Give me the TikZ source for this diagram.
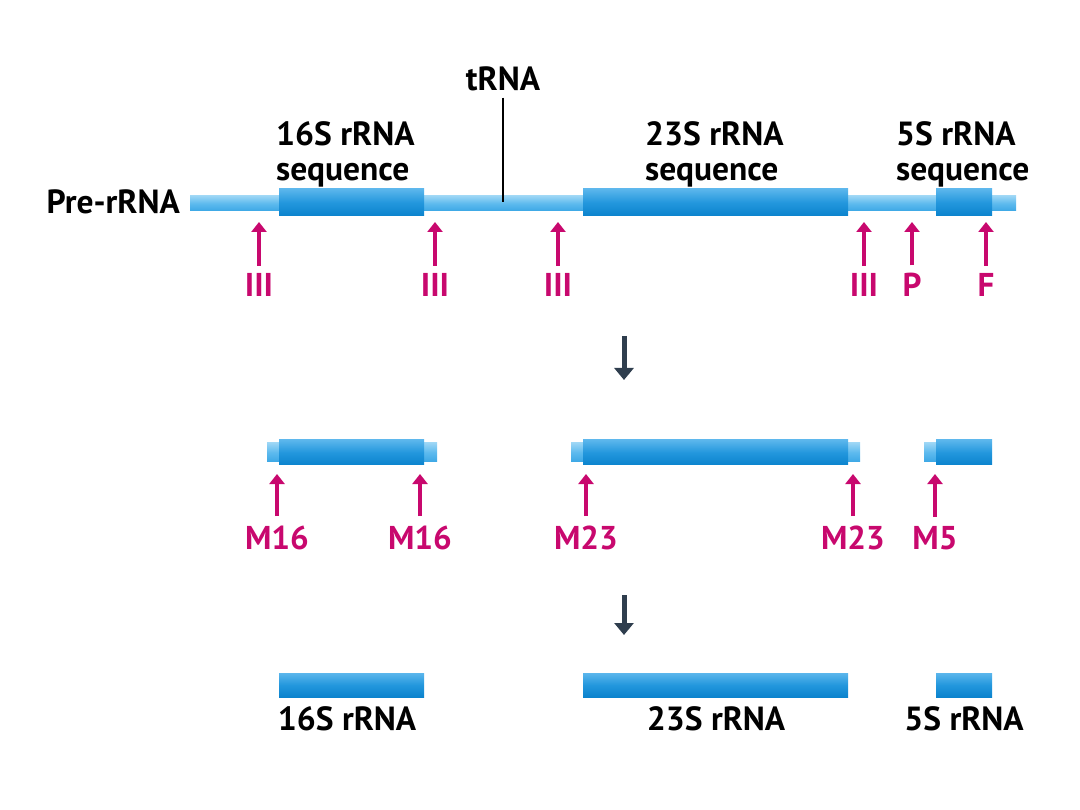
\documentclass[tikz,border=0pt]{standalone}
\usepackage{fontspec}
\setmainfont{PT Sans}
\usetikzlibrary{arrows.meta}
\definecolor{thickT}{HTML}{5BB6EC}
\definecolor{thickM}{HTML}{2397DD}
\definecolor{thickB}{HTML}{0B83CD}
\definecolor{thinT}{HTML}{9AD5F5}
\definecolor{thinM}{HTML}{5DBAEE}
\definecolor{thinB}{HTML}{3CA7E5}
\definecolor{mag}{HTML}{C8086E}
\definecolor{dark}{HTML}{2F3E4E}
\begin{document}
\begin{tikzpicture}[x=1pt,y=-1pt,
  thinbar/.style={draw=none, top color=thinT, bottom color=thinB, middle color=thinM},
  thickbar/.style={draw=none, top color=thickT, bottom color=thickB, middle color=thickM},
  lbl/.style={font=\fontsize{33.5}{35}\selectfont\bfseries, inner sep=0pt, text=black},
  enz/.style={font=\fontsize{33}{36}\selectfont\bfseries, inner sep=0pt, text=mag, anchor=base},
  cut/.style={draw=mag, line width=4pt, -{Triangle[width=15pt,length=10pt]}},
  stepdown/.style={draw=dark, line width=5pt, -{Triangle[width=19pt,length=12pt]}}
]
\useasboundingbox (0,0) rectangle (1080,810);

% ---------- Pre-rRNA ----------
\fill[thinbar] (190,196) rectangle (1016,211);
\fill[thickbar] (279,189) rectangle (424,216);
\fill[thickbar] (583,189) rectangle (848,216);
\fill[thickbar] (936,189) rectangle (992,216);

\node[lbl, anchor=base east] (pre) at (180,214) {Pre-rRNA};
\node[lbl, anchor=base] (trna) at (503,91) {tRNA};
\coordinate (trnaEnd) at (503,202);
\draw[line width=2.6pt] ([yshift=-6pt]trna.south) -- (trnaEnd);

\node[lbl, anchor=north west, align=left] (s16) at (276,121) {16S rRNA\\sequence};
\node[lbl, anchor=north west, align=left] (s23) at (645,121) {23S rRNA\\sequence};
\node[lbl, anchor=north west, align=left] (s5) at (896,121) {5S rRNA\\sequence};

% cleavage sites, first step
\foreach \i/\x/\t in {1/259/III, 2/435/III, 3/558/III, 4/864/III, 5/912/P, 6/986/F}{
  \node[enz] (e\i) at (\x,297) {\t};
  \coordinate (c\i) at (\x,222);
  \draw[cut] ([yshift=8pt]e\i.north) -- (c\i);
}

% ---------- step arrow 1 ----------
\coordinate (d1a) at (624,336);
\coordinate (d1b) at (624,380);
\draw[stepdown] (d1a) -- (d1b);

% ---------- intermediates ----------
\fill[thinbar] (267,443) rectangle (437,462);
\fill[thickbar] (279,440) rectangle (424,465);
\fill[thinbar] (571,443) rectangle (860,462);
\fill[thickbar] (583,440) rectangle (848,465);
\fill[thinbar] (924,443) rectangle (940,462);
\fill[thickbar] (936,440) rectangle (992,465);

\foreach \i/\x/\t in {1/277/M16, 2/420/M16, 3/586/M23, 4/853/M23, 5/935/M5}{
  \node[enz] (m\i) at (\x,549) {\t};
  \coordinate (n\i) at (\x,474);
  \draw[cut] ([yshift=9pt]m\i.north) -- (n\i);
}

% ---------- step arrow 2 ----------
\coordinate (d2a) at (624,595);
\coordinate (d2b) at (624,635);
\draw[stepdown] (d2a) -- (d2b);

% ---------- mature rRNAs ----------
\fill[thickbar] (279,673) rectangle (424,697);
\fill[thickbar] (583,673) rectangle (848,697);
\fill[thickbar] (936,673) rectangle (992,697);

\node[lbl, anchor=base] (r16) at (347,730) {16S rRNA};
\node[lbl, anchor=base] (r23) at (716,730) {23S rRNA};
\node[lbl, anchor=base] (r5) at (964,730) {5S rRNA};
\end{tikzpicture}
\end{document}
